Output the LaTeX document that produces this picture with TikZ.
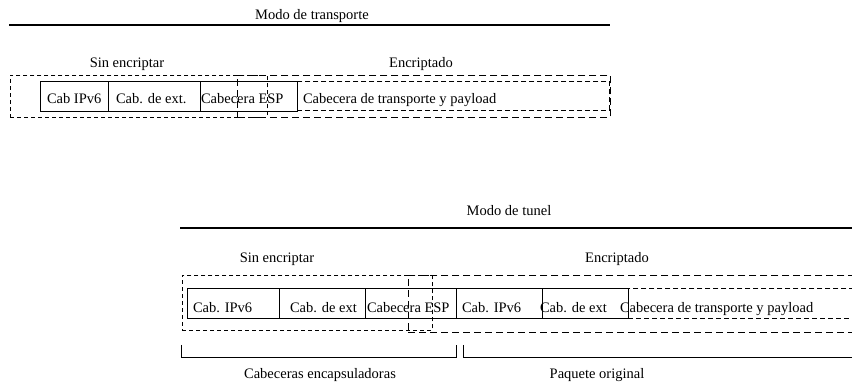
\documentclass[tikz,border=0pt]{standalone}
\usepackage{fontspec}
\setmainfont{Liberation Serif}
\begin{document}
\begin{tikzpicture}[x=1pt,y=-1pt,
  lbl/.style={font=\fontsize{14.5}{17}\selectfont, inner sep=0pt, outer sep=0pt},
  cell/.style={draw, line width=0.8pt, inner sep=0pt, outer sep=0pt, anchor=north west},
  grpplain/.style={draw, dash pattern=on 4pt off 3pt, line width=0.8pt, inner sep=0pt, anchor=north west},
  grpenc/.style={draw, dash pattern=on 7pt off 4pt, line width=0.8pt, inner sep=0pt, anchor=north west},
  paybox/.style={draw, dash pattern=on 5pt off 3pt, line width=0.8pt, inner sep=0pt, anchor=north west},
  titleline/.style={line width=1.2pt},
  bracketline/.style={line width=0.8pt}]
\useasboundingbox (0,0) rectangle (852,387);
\clip (0,0) rectangle (852,387);

% ---------- Modo de transporte ----------
\node[lbl, anchor=base] (mt) at (312,20) {Modo de transporte};
\coordinate (mtl) at (9,25);
\coordinate (mtr) at (610,25);
\draw[titleline] (mtl) -- (mtr);

\node[lbl, anchor=base] (tsl) at (127,68) {Sin encriptar};
\node[lbl, anchor=base] (tel) at (421,68) {Encriptado};

\node[grpplain, minimum width=257pt, minimum height=42pt] (ts) at (10,75) {};
\node[grpenc, minimum width=373pt, minimum height=42pt] (te) at (237,75) {};

\node[cell, minimum width=68pt, minimum height=30pt] (t1) at (40,81) {};
\node[cell, minimum width=92pt, minimum height=30pt] (t2) at (108,81) {};
\node[cell, minimum width=97pt, minimum height=30pt] (t3) at (200,81) {};
\node[paybox, minimum width=312pt, minimum height=29pt] (t4) at (297,81) {};

\node[lbl, anchor=base west] (t1t) at (47,104) {Cab IPv6};
\node[lbl, anchor=base west] (t2t) at (116,104) {Cab. de ext.};
\node[lbl, anchor=base west] (t3t) at (201,104) {Cabecera ESP};
\node[lbl, anchor=base west] (t4t) at (303,104) {Cabecera de transporte y payload};

% ---------- Modo de tunel ----------
\node[lbl, anchor=base] (mtu) at (509,216) {Modo de tunel};
\coordinate (mul) at (180,228);
\coordinate (mur) at (870,228);
\draw[titleline] (mul) -- (mur);

\node[lbl, anchor=base] (usl) at (277,263) {Sin encriptar};
\node[lbl, anchor=base] (uel) at (617,263) {Encriptado};

\node[grpplain, minimum width=250pt, minimum height=55pt] (us) at (182,275) {};
\node[grpenc, minimum width=470pt, minimum height=57pt] (ue) at (408,275) {};

\node[cell, minimum width=92pt, minimum height=30pt] (u1) at (187,288) {};
\node[cell, minimum width=86pt, minimum height=30pt] (u2) at (279,288) {};
\node[cell, minimum width=91pt, minimum height=30pt] (u3) at (365,288) {};
\node[cell, minimum width=86pt, minimum height=30pt] (u4) at (456,288) {};
\node[cell, minimum width=86pt, minimum height=30pt] (u5) at (542,288) {};
\node[paybox, minimum width=250pt, minimum height=30pt] (u6) at (628,288) {};

\node[lbl, anchor=base west] (u1t) at (193,313) {Cab. IPv6};
\node[lbl, anchor=base west] (u2t) at (290,313) {Cab. de ext};
\node[lbl, anchor=base west] (u3t) at (367,313) {Cabecera ESP};
\node[lbl, anchor=base west] (u4t) at (462,313) {Cab. IPv6};
\node[lbl, anchor=base west] (u5t) at (540,313) {Cab. de ext};
\node[lbl, anchor=base west] (u6t) at (620,313) {Cabecera de transporte y payload};

% brackets
\coordinate (b1a) at (181,345);
\coordinate (b1b) at (181,357);
\coordinate (b1c) at (456,357);
\coordinate (b1d) at (456,345);
\draw[bracketline] (b1a) -- (b1b) -- (b1c) -- (b1d);
\coordinate (b2a) at (463,345);
\coordinate (b2b) at (463,357);
\coordinate (b2c) at (870,357);
\draw[bracketline] (b2a) -- (b2b) -- (b2c);

\node[lbl, anchor=base] (cen) at (320,379) {Cabeceras encapsuladoras};
\node[lbl, anchor=base] (por) at (597,379) {Paquete original};
\end{tikzpicture}
\end{document}
